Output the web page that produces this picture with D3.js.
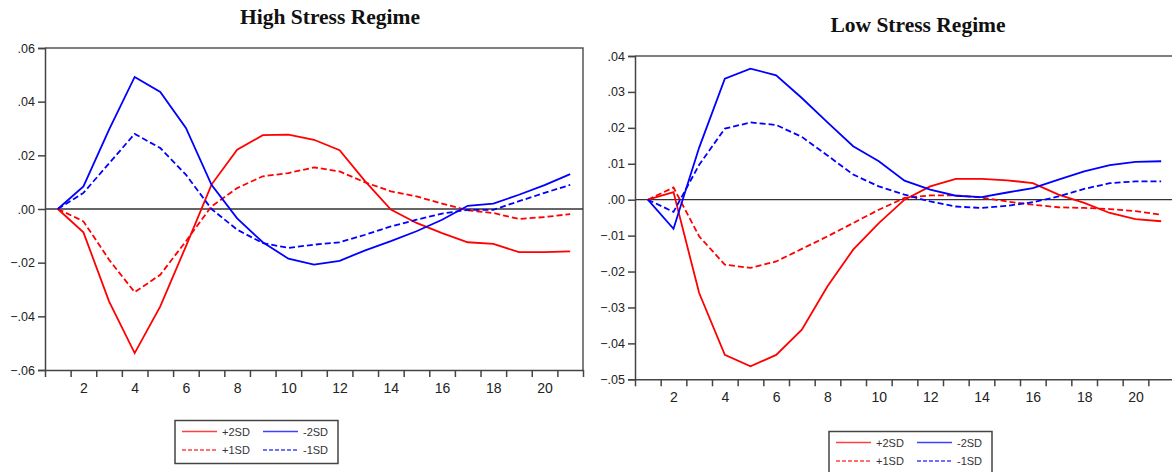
<!DOCTYPE html>
<html>
<head>
<meta charset="utf-8">
<script src="https://cdn.jsdelivr.net/npm/d3@7"></script>
<style>
  body { margin: 0; background: #fff; }
  svg { display: block; }
  .axis text { font-family: "Liberation Sans", Arial, sans-serif; fill: #222; }
  .axis path, .axis line { stroke: #444; }
</style>
</head>
<body>
<script>
const periods = d3.range(1, 22);
const seriesNames = ["+2SD", "+1SD", "-2SD", "-1SD"];

// High stress regime
const highPlus2 = [0, -0.0087, -0.0344, -0.0537, -0.0363, -0.0139, 0.0091, 0.0221, 0.0275, 0.0277, 0.0258, 0.0219, 0.0103, -0.0002, -0.0052, -0.009, -0.0124, -0.013, -0.0161, -0.0161, -0.0158];
const highPlus1 = [0, -0.0046, -0.0189, -0.031, -0.0245, -0.012, 0.001, 0.0078, 0.0122, 0.0134, 0.0155, 0.014, 0.0099, 0.0066, 0.0047, 0.002, -0.0005, -0.0015, -0.0037, -0.003, -0.0019];
const highMinus2 = [0, 0.0084, 0.0296, 0.0492, 0.0436, 0.0302, 0.009, -0.0035, -0.0124, -0.0185, -0.0207, -0.0193, -0.0154, -0.012, -0.0083, -0.004, 0.0012, 0.002, 0.0053, 0.0089, 0.013];
const highMinus1 = [0, 0.006, 0.017, 0.028, 0.0227, 0.0128, 0.0, -0.0077, -0.0127, -0.0145, -0.0133, -0.0124, -0.0096, -0.0065, -0.004, -0.0017, -0.0003, -0.0003, 0.0029, 0.006, 0.009];

// Low stress regime
const lowPlus2 = [0, 0.0021, -0.026, -0.0432, -0.0464, -0.0432, -0.0362, -0.0241, -0.0139, -0.0065, 0.0, 0.0037, 0.0058, 0.0058, 0.0054, 0.0046, 0.0014, -0.0009, -0.0037, -0.0054, -0.006];
const lowPlus1 = [0, 0.0034, -0.0102, -0.0181, -0.019, -0.0172, -0.0137, -0.0102, -0.0065, -0.0028, 0.0005, 0.0012, 0.0012, 0.0006, -0.0005, -0.0014, -0.0021, -0.0023, -0.0026, -0.0032, -0.0042];
const lowMinus2 = [0, -0.0081, 0.0145, 0.0337, 0.0365, 0.0346, 0.0283, 0.0215, 0.0149, 0.0107, 0.0053, 0.0028, 0.0011, 0.0007, 0.002, 0.0032, 0.0056, 0.0079, 0.0096, 0.0105, 0.0107];
const lowMinus1 = [0, -0.0034, 0.0097, 0.0198, 0.0215, 0.0208, 0.0175, 0.0123, 0.007, 0.0037, 0.0014, -0.0005, -0.0019, -0.0023, -0.0017, -0.0007, 0.0009, 0.003, 0.0046, 0.0051, 0.0051];

const highTicks = [-0.06, -0.04, -0.02, 0, 0.02, 0.04, 0.06];
const lowTicks = [-0.05, -0.04, -0.03, -0.02, -0.01, 0, 0.01, 0.02, 0.03, 0.04];
const xLabels = [2, 4, 6, 8, 10, 12, 14, 16, 18, 20];

const colors = {"+2SD": "#ff0000", "+1SD": "#ff0000", "-2SD": "#0000ff", "-1SD": "#0000ff"};
const dashes = {"+2SD": null, "+1SD": "6,3", "-2SD": null, "-1SD": "6,3"};

const svg = d3.select("body").append("svg")
  .attr("width", 1172)
  .attr("height", 472);

const fmt = d => {
  const s = d3.format(".2f")(d);
  return s.replace("0.", ".");
};

function drawPanel(cfg) {
  const x = d3.scaleLinear().domain([0.5, 21.5]).range([cfg.left, cfg.right]);
  const y = d3.scaleLinear().domain(cfg.domain).range([cfg.bottom, cfg.top]);
  const g = svg.append("g");

  g.append("text")
    .attr("x", cfg.titleX)
    .attr("y", cfg.titleY)
    .attr("text-anchor", "middle")
    .style("font-family", "'Liberation Serif', 'Times New Roman', serif")
    .style("font-weight", "bold")
    .style("font-size", "21.5px")
    .style("fill", "#111")
    .text(cfg.title);

  // frame: top and right
  g.append("path")
    .attr("d", "M" + cfg.left + "," + cfg.top + "H" + cfg.right + "V" + cfg.bottom)
    .attr("fill", "none")
    .attr("stroke", "#555")
    .attr("stroke-width", 1.5);

  // zero line
  g.append("line")
    .attr("x1", cfg.left).attr("x2", cfg.right)
    .attr("y1", y(0)).attr("y2", y(0))
    .attr("stroke", "#333")
    .attr("stroke-width", 1.3);

  const yAxis = d3.axisLeft(y).tickValues(cfg.ticks).tickFormat(fmt).tickSize(7).tickPadding(3);
  g.append("g")
    .attr("class", "axis")
    .attr("transform", "translate(" + cfg.left + ",0)")
    .call(yAxis)
    .call(s => s.selectAll("path, line").attr("stroke-width", 1.5))
    .call(s => s.selectAll("text").style("font-size", "12.5px"));

  const xTicks = d3.axisBottom(x).tickValues(d3.range(0.5, 22, 1)).tickFormat("").tickSize(7).tickSizeOuter(0);
  g.append("g")
    .attr("class", "axis")
    .attr("transform", "translate(0," + cfg.bottom + ")")
    .call(xTicks)
    .call(s => s.selectAll("path, line").attr("stroke-width", 1.5));

  const xLab = d3.axisBottom(x).tickValues(xLabels).tickSize(0).tickPadding(13);
  g.append("g")
    .attr("class", "axis")
    .attr("transform", "translate(0," + cfg.bottom + ")")
    .call(xLab)
    .call(s => s.select(".domain").remove())
    .call(s => s.selectAll("text").style("font-size", "14px"));

  const line = d3.line().x((d, i) => x(periods[i])).y(d => y(d));
  seriesNames.forEach((name, k) => {
    g.append("path")
      .datum(cfg.series[k])
      .attr("d", line)
      .attr("fill", "none")
      .attr("stroke", colors[name])
      .attr("stroke-width", 1.8)
      .attr("stroke-dasharray", dashes[name]);
  });

  // legend
  const lg = g.append("g").attr("transform", "translate(" + cfg.legX + "," + cfg.legY + ")");
  lg.append("rect")
    .attr("width", cfg.legW).attr("height", 43)
    .attr("fill", "#fff")
    .attr("stroke", "#444")
    .attr("stroke-width", 1.5);
  seriesNames.forEach((name, k) => {
    const col = name.startsWith("+") ? 0 : 1;
    const row = name.endsWith("2SD") ? 0 : 1;
    const ix = 7 + col * 81;
    const iy = 11 + row * 18.5;
    lg.append("line")
      .attr("x1", ix).attr("x2", ix + 35)
      .attr("y1", iy).attr("y2", iy)
      .attr("stroke", colors[name])
      .attr("stroke-opacity", 0.75)
      .attr("stroke-width", 1.3)
      .attr("stroke-dasharray", dashes[name] ? "4,2" : null);
    lg.append("text")
      .attr("x", ix + 40)
      .attr("y", iy + 4)
      .style("font-family", "'Liberation Sans', Arial, sans-serif")
      .style("font-size", "11px")
      .style("fill", "#333")
      .text(name);
  });
}

drawPanel({
  title: "High Stress Regime", titleX: 330, titleY: 24,
  left: 45, right: 583, top: 48, bottom: 370,
  domain: [-0.06, 0.06], ticks: highTicks,
  series: [highPlus2, highPlus1, highMinus2, highMinus1],
  legX: 175, legY: 420.5, legW: 163
});

drawPanel({
  title: "Low Stress Regime", titleX: 918, titleY: 32,
  left: 635, right: 1174, top: 56, bottom: 379.3,
  domain: [-0.05, 0.04], ticks: lowTicks,
  series: [lowPlus2, lowPlus1, lowMinus2, lowMinus1],
  legX: 829, legY: 431.5, legW: 163
});
</script>
</body>
</html>
